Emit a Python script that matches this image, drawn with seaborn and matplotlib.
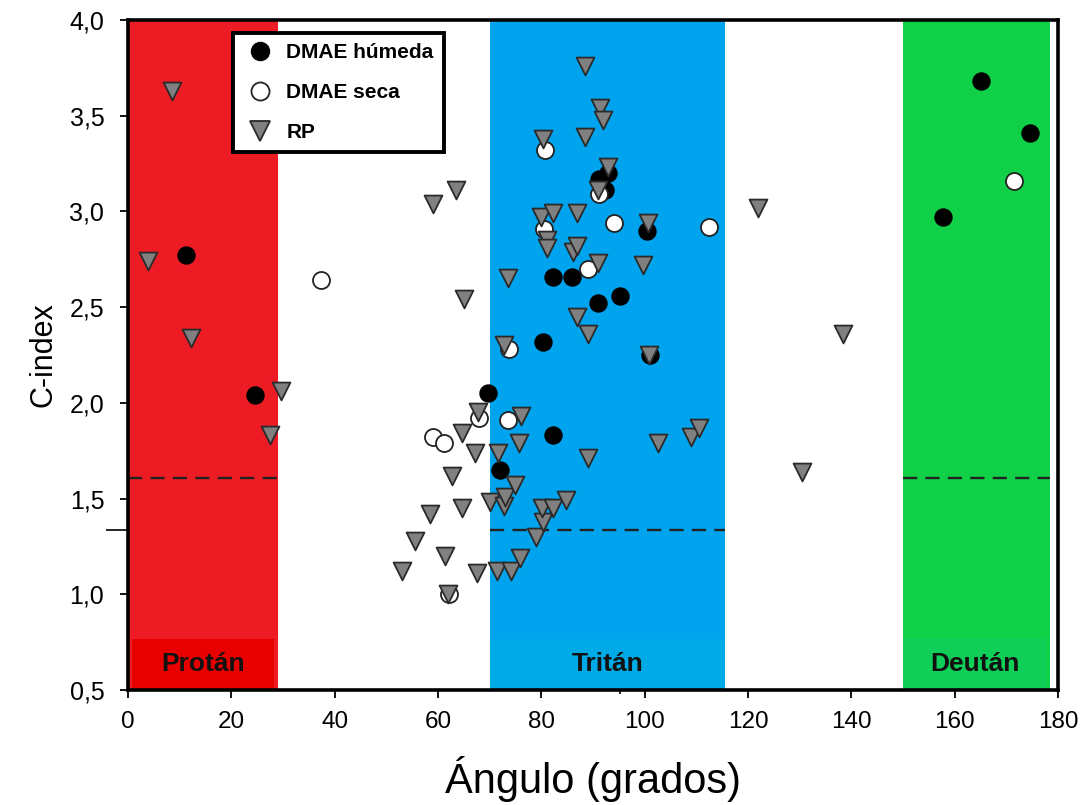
import numpy as np
import pandas as pd
import matplotlib
matplotlib.use("Agg")
import matplotlib.pyplot as plt
import seaborn as sns
from matplotlib.patches import Rectangle
from matplotlib.lines import Line2D

# --- data -------------------------------------------------------------
humeda_ang = [11.2, 24.6, 69.6, 72.1, 82.2, 80.4, 82.2, 85.9, 90.9, 95.3,
              100.4, 91.1, 93.0, 92.4, 101.0, 157.8, 165.1, 174.6]
humeda_c = [2.77, 2.04, 2.05, 1.65, 1.83, 2.32, 2.66, 2.66, 2.52, 2.56,
            2.90, 3.17, 3.20, 3.11, 2.25, 2.97, 3.68, 3.41]

seca_ang = [37.4, 59.1, 61.2, 62.2, 68.0, 73.8, 73.6, 80.8, 80.6, 91.1,
            94.0, 89.0, 112.4, 171.5]
seca_c = [2.64, 1.82, 1.79, 1.00, 1.92, 2.28, 1.91, 3.32, 2.91, 3.09,
          2.94, 2.70, 2.92, 3.16]

rp_ang = [3.9, 8.5, 12.2, 29.6, 27.5, 59.1, 63.4, 65.1, 53.1, 55.6,
          58.5, 61.4, 62.0, 62.8, 64.7, 64.7, 67.2, 67.8, 67.6, 70.1,
          71.5, 71.7, 72.7, 72.7, 73.0, 74.2, 73.6, 75.0, 75.6, 76.0,
          75.8, 78.9, 80.4, 80.2, 82.3, 84.7, 80.4, 80.0, 81.2, 81.2,
          82.2, 87.0, 86.2, 87.0, 87.0, 89.1, 88.5, 88.4, 91.3, 92.0,
          90.9, 90.9, 93.0, 89.1, 99.6, 100.6, 100.8, 102.5, 108.9, 110.6,
          121.9, 130.4, 138.3]
rp_c = [2.74, 3.63, 2.34, 2.06, 1.83, 3.04, 3.11, 2.54, 1.12, 1.28,
        1.42, 1.20, 1.00, 1.62, 1.84, 1.45, 1.74, 1.95, 1.11, 1.48,
        1.12, 1.74, 2.30, 1.46, 1.51, 1.12, 2.65, 1.57, 1.79, 1.93,
        1.19, 1.30, 1.38, 1.45, 1.45, 1.49, 3.38, 2.97, 2.85, 2.81,
        2.99, 2.99, 2.79, 2.82, 2.45, 2.36, 3.76, 3.39, 3.54, 3.48,
        3.11, 2.73, 3.23, 1.71, 2.72, 2.94, 2.25, 1.79, 1.82, 1.87,
        3.02, 1.64, 2.36]

# confusion axes: name, start, end, threshold
zonas = ["Protán", "Tritán", "Deután"]
zona_ini = [0.0, 70.0, 150.0]
zona_fin = [29.0, 115.5, 178.5]
zona_umbral = [1.61, 1.335, 1.61]
zona_color = ["#ed1c24", "#00a3ed", "#10d048"]
zona_color_caja = ["#e80000", "#00aae6", "#0fcf58"]

x_ticks = list(range(0, 181, 20))
y_ticks = [0.5, 1.0, 1.5, 2.0, 2.5, 3.0, 3.5, 4.0]

# --- figure -----------------------------------------------------------
sns.set_theme(style="white")
plt.rcParams["font.family"] = ["Liberation Sans", "DejaVu Sans"]
plt.rcParams["text.color"] = "black"
plt.rcParams["axes.labelcolor"] = "black"
plt.rcParams["xtick.color"] = "black"
plt.rcParams["ytick.color"] = "black"

fig = plt.figure(figsize=(10.88, 8.05), dpi=100)
ax = fig.add_axes([0.1176, 0.1429, 0.8548, 0.8322])

ax.set_xlim(0, 180)
ax.set_ylim(0.5, 4.0)

# shaded bands, label boxes and threshold lines
for nombre, x0, x1, umbral, c, cc in zip(zonas, zona_ini, zona_fin,
                                          zona_umbral, zona_color,
                                          zona_color_caja):
    ax.axvspan(x0, x1, color=c, zorder=0, lw=0)
    bx0 = x0 + 0.8 if nombre == "Protán" else x0
    bx1 = x1 - 0.8 if nombre != "Tritán" else x1
    ax.add_patch(Rectangle((bx0, 0.5), bx1 - bx0, 0.265, color=cc,
                           lw=0, zorder=0.5))
    ax.text((bx0 + bx1) / 2, 0.635, nombre, ha="center", va="center",
            fontsize=19, fontweight="bold", color="#111111", zorder=1)
    ax.plot([x0, x1], [umbral, umbral], ls=(0, (6, 3.5)), color="#222222",
            lw=1.7, zorder=1)

# data points
sns.scatterplot(x=humeda_ang, y=humeda_c, ax=ax, marker="o", s=150,
                color="black", edgecolor="black", linewidth=1.0, zorder=3,
                legend=False)
sns.scatterplot(x=seca_ang, y=seca_c, ax=ax, marker="o", s=150,
                color="white", edgecolor="#222222", linewidth=1.3, zorder=4,
                legend=False)
sns.scatterplot(x=rp_ang, y=rp_c, ax=ax, marker="v", s=165,
                color="#808080", edgecolor="#2a2a2a", linewidth=1.3,
                zorder=5, legend=False)

# axes, ticks and labels
for s in ax.spines.values():
    s.set_color("black")
    s.set_linewidth(2.6)

ax.set_xticks(x_ticks)
ax.set_yticks(y_ticks)
ax.set_xticklabels([str(v) for v in x_ticks])
ax.set_yticklabels([f"{v:.1f}".replace(".", ",") for v in y_ticks])
ax.tick_params(axis="both", direction="out", length=6, width=1.3,
               color="black", bottom=True, left=True)
ax.tick_params(axis="x", labelsize=17.5, pad=9)
ax.tick_params(axis="y", labelsize=18, pad=11)
ax.set_yticks([1.335], minor=True)
ax.set_xticks([95.2], minor=True)
ax.tick_params(axis="y", which="minor", direction="out", length=16,
               width=1.2, left=True)
ax.tick_params(axis="x", which="minor", direction="out", length=3,
               width=1.2, bottom=True)

ax.set_xlabel("Ángulo (grados)", fontsize=30, labelpad=17)
ax.set_ylabel("C-index", fontsize=22, labelpad=8)
ax.grid(False)

# legend
handles = [
    Line2D([], [], ls="none", marker="o", ms=13, mfc="black", mec="black"),
    Line2D([], [], ls="none", marker="o", ms=13, mfc="white",
           mec="#222222", mew=1.3),
    Line2D([], [], ls="none", marker="v", ms=14, mfc="#808080",
           mec="#2a2a2a", mew=1.3),
]
leg = ax.legend(handles, ["DMAE húmeda", "DMAE seca", "RP"],
                loc="upper left", bbox_to_anchor=(0.113, 0.981),
                frameon=True, fancybox=False, borderpad=0.5,
                labelspacing=1.0, handletextpad=0.45, handlelength=1.6,
                borderaxespad=0,
                prop={"weight": "bold", "size": 15})
leg.get_frame().set_edgecolor("black")
leg.get_frame().set_linewidth(2.8)
leg.get_frame().set_facecolor("white")
leg.get_frame().set_alpha(1)
leg.set_zorder(10)

fig.savefig("out.png", dpi=100)
